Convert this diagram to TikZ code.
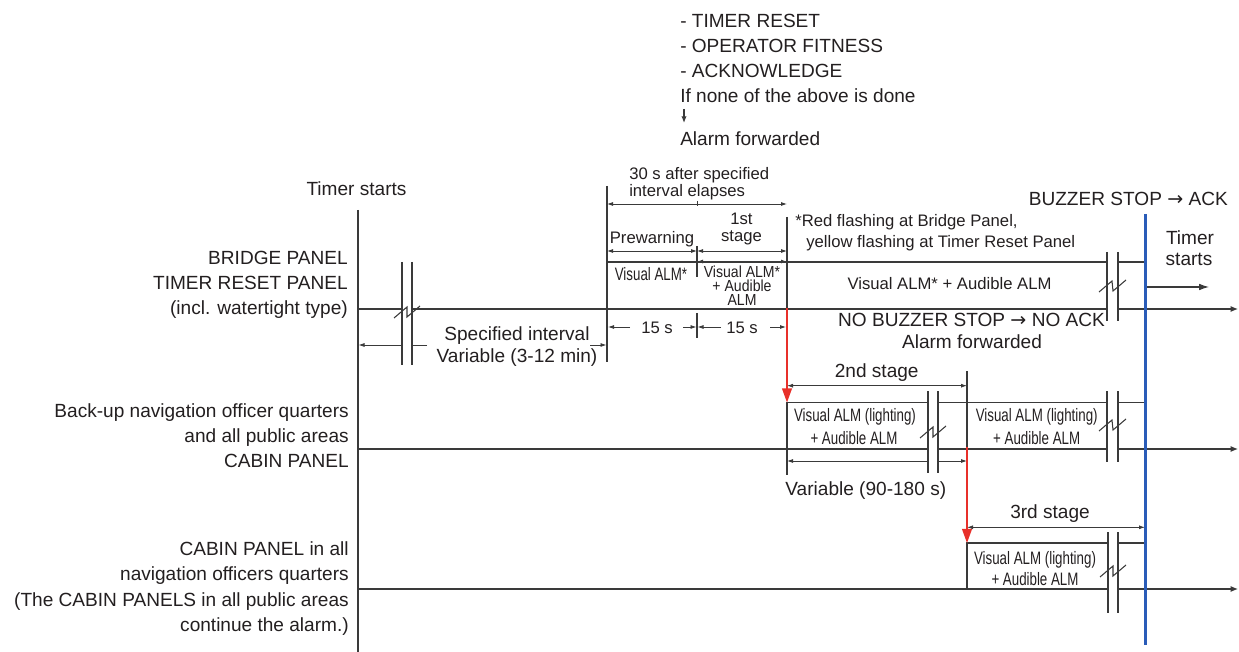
\documentclass[tikz,border=0pt]{standalone}
\usepackage{fontspec}
\setmainfont{Liberation Sans}
\newfontfamily\nfontA[FakeStretch=0.74]{Liberation Sans}
\newfontfamily\nfontB[FakeStretch=0.88]{Liberation Sans}
\newfontfamily\arfont{DejaVu Sans}
\usetikzlibrary{arrows.meta}
\definecolor{txt}{HTML}{231F20}
\definecolor{lc}{HTML}{3A3A3A}
\definecolor{redA}{HTML}{E8302A}
\definecolor{blueA}{HTML}{2A5CB8}
\newcommand\rarr{{\arfont\fontsize{14.3}{14}\selectfont →}}
\newcommand\brkmark[5]{%
  \fill[white] (#1,#3) rectangle (#2,#4);
  \draw[ln] (#1,#3) -- (#1,#4) (#2,#3) -- (#2,#4);
  \draw[ln] ({#1-8},{#5+6}) -- ({#1+5},{#5-5}) -- ({#2-5},{#5+5}) -- ({#2+8},{#5-6});
}
\begin{document}
\begin{tikzpicture}[x=0.75pt,y=-0.75pt,
  ln/.style={draw=lc,line width=0.8pt},
  big/.style={font=\fontsize{14.3}{18}\selectfont,text=txt,inner sep=0pt},
  mid/.style={font=\fontsize{12.5}{15}\selectfont,text=txt,inner sep=0pt},
  boxA/.style={font=\nfontA\fontsize{13.5}{16}\selectfont,text=txt,inner sep=0pt},
  boxB/.style={font=\nfontB\fontsize{12}{11}\selectfont,text=txt,inner sep=0pt},
  dimarr/.style={ln,line width=0.6pt,{Latex[length=4.5pt,width=3pt]}-{Latex[length=4.5pt,width=3pt]}},
  onearr/.style={ln,line width=0.6pt,-{Latex[length=4.5pt,width=3pt]}},
  tl/.style={ln,-{Latex[length=5.5pt,width=4.5pt]}},
  redarr/.style={draw=redA,line width=2.2pt,-{Triangle[length=11pt,width=7pt]}},
]
\useasboundingbox (0,0) rectangle (1239,652);

% ---- named coordinates
\coordinate (axT) at (358,210);  \coordinate (axB) at (358,652);
\coordinate (r1s) at (358,309);  \coordinate (r1e) at (1238,309);
\coordinate (r2s) at (358,449);  \coordinate (r2e) at (1238,449);
\coordinate (r3s) at (358,589);  \coordinate (r3e) at (1238,589);

% ---- axis and timelines
\draw[ln,line width=1.1pt] (axT) -- (axB);
\draw[tl] (r1s) -- (r1e);
\draw[tl] (r2s) -- (r2e);
\draw[tl] (r3s) -- (r3e);

% ---- row 1 boxes
\draw[ln] (607,309) -- (607,262) -- (1145,262);
\draw[ln] (787,262) -- (787,309);
\draw[ln,line width=1.2pt] (607,186) -- (607,262);
\draw[ln] (787,217) -- (787,262);
\draw[ln] (697,246) -- (697,277);
\draw[ln] (697,313) -- (697,338);
\draw[ln] (607,309) -- (607,362);

% dimension arrows row 1
\coordinate (d30a) at (607,204); \coordinate (d30b) at (787,204);
\draw[dimarr] (d30a) -- (d30b);
\draw[ln,line width=0.5pt] (697,201) -- (697,206);
\coordinate (dpa) at (607,251); \coordinate (dpb) at (697,251); \coordinate (dpc) at (787,251);
\draw[dimarr] (dpa) -- (dpb);
\draw[dimarr] (dpb) -- (dpc);
\coordinate (dta) at (697,261.5); \coordinate (dtb) at (787,261.5);
\draw[dimarr,line width=1.1pt] (dta) -- (dtb);

\draw[onearr] (630,327) -- (608,327);
\draw[onearr] (683,327) -- (696.5,327);
\draw[onearr] (721,327) -- (697.5,327);
\draw[onearr] (770,327) -- (786,327);
\draw[onearr] (427,345) -- (358.5,345);
\draw[onearr] (590,345) -- (606.5,345);

% ---- row 2
\draw[ln] (787,449) -- (787,402.7) -- (1145,402.7);
\draw[ln] (787,449) -- (787,475);
\draw[ln] (967,371) -- (967,449);
\coordinate (d2a) at (787,385.7); \coordinate (d2b) at (967,385.7);
\draw[dimarr] (d2a) -- (d2b);
\coordinate (d2c) at (787,461); \coordinate (d2d) at (967,461);
\draw[dimarr] (d2c) -- (d2d);

% ---- row 3
\draw[ln] (967,589) -- (967,543) -- (1145,543);
\coordinate (d3a) at (967,527.3); \coordinate (d3b) at (1145,527.3);
\draw[dimarr] (d3a) -- (d3b);

% ---- breaks
\brkmark{402}{412}{262}{365}{312}
\brkmark{1107}{1118}{252}{321}{286}
\brkmark{928}{938}{391}{473}{432}
\brkmark{1107}{1118}{391}{462}{425}
\brkmark{1108}{1118}{532}{613}{571}

% ---- red and blue
\coordinate (ra1) at (787,308); \coordinate (ra2) at (787,403);
\draw[redarr] (ra1) -- (ra2);
\coordinate (rb1) at (967,447); \coordinate (rb2) at (967,543.5);
\draw[redarr] (rb1) -- (rb2);
\coordinate (bl1) at (1145.5,214); \coordinate (bl2) at (1145.5,645);
\draw[draw=blueA,line width=2.2pt] (bl1) -- (bl2);

% timer starts arrow (right)
\coordinate (ts1) at (1147,287); \coordinate (ts2) at (1209,287);
\draw[ln,-{Latex[length=7.5pt,width=5pt]}] (ts1) -- (ts2);

% top down arrow
\coordinate (da1) at (684,109); \coordinate (da2) at (684,123);
\draw[ln,line width=0.9pt,-{Latex[length=5pt,width=4pt]}] (da1) -- (da2);

% ---- texts: top block
\node[big,anchor=base west] (tb1) at (680,27.3) {- TIMER RESET};
\node[big,anchor=base west] (tb2) at (680,52.7) {- OPERATOR FITNESS};
\node[big,anchor=base west] (tb3) at (680,77.7) {- ACKNOWLEDGE};
\node[big,anchor=base west] (tb4) at (680,102.7) {If none of the above is done};
\node[big,anchor=base west] (tb5) at (680,146) {Alarm forwarded};

% left labels
\node[big,anchor=base] (tsl) at (356.5,196) {Timer starts};
\node[big,anchor=base east] (l11) at (348,265) {BRIDGE PANEL};
\node[big,anchor=base east] (l12) at (348,290) {TIMER RESET PANEL};
\node[big,anchor=base east] (l13) at (348,315) {(incl. watertight type)};
\node[big,anchor=base east] (l21) at (349,417) {Back-up navigation officer quarters};
\node[big,anchor=base east] (l22) at (349,442) {and all public areas};
\node[big,anchor=base east] (l23) at (349,467) {CABIN PANEL};
\node[big,anchor=base east] (l31) at (349,555.5) {CABIN PANEL in all};
\node[big,anchor=base east] (l32) at (349,580.7) {navigation officers quarters};
\node[big,anchor=base east] (l33) at (349,606) {(The CABIN PANELS in all public areas};
\node[big,anchor=base east] (l34) at (349,631) {continue the alarm.)};

% row 1 texts
\node[mid,anchor=base west] (t30a) at (629,179.3) {30 s after specified};
\node[mid,anchor=base west] (t30b) at (629,196.7) {interval elapses};
\node[mid,anchor=base] (tpw) at (652,243.3) {Prewarning};
\node[mid,anchor=base] (t1st) at (741.5,225) {1st};
\node[mid,anchor=base] (tstg) at (741.5,241.7) {stage};
\node[boxA,anchor=base] (bv1) at (651,280.7) {Visual ALM*};
\node[boxB,anchor=base] (bv2a) at (742,277.3) {Visual ALM*};
\node[boxB,anchor=base] (bv2b) at (742,291.7) {+ Audible};
\node[boxB,anchor=base] (bv2c) at (742,306) {ALM};
\node[mid,anchor=base west] (red1) at (795,226.7) {*Red flashing at Bridge Panel,};
\node[mid,anchor=base west] (red2) at (806,247.3) {yellow flashing at Timer Reset Panel};
\node[mid,anchor=base] (bvbig) at (949.5,290) {Visual ALM* + Audible ALM};
\node[big,anchor=base east] (bst) at (1228,206) {BUZZER STOP \rarr{} ACK};
\node[big,anchor=base] (tsr1) at (1190,245) {Timer};
\node[big,anchor=base] (tsr2) at (1189,266) {starts};
\node[mid,anchor=base] (f1) at (657,333.3) {15 s};
\node[mid,anchor=base] (f2) at (742,333.3) {15 s};
\node[big,anchor=base] (sp1) at (517,340) {Specified interval};
\node[big,anchor=base] (sp2) at (517,363) {Variable (3-12 min)};
\node[big,anchor=base] (nb1) at (971.5,326) {NO BUZZER STOP \rarr{} NO ACK};
\node[big,anchor=base] (nb2) at (972,348.3) {Alarm forwarded};

% row 2 texts
\node[big,anchor=base] (s2) at (876.7,377.3) {2nd stage};
\node[boxA,anchor=base] (v21) at (855,421.7) {Visual ALM (lighting)};
\node[boxA,anchor=base] (v22) at (854,444) {+ Audible ALM};
\node[boxA,anchor=base] (v23) at (1036.7,421.7) {Visual ALM (lighting)};
\node[boxA,anchor=base] (v24) at (1036.7,444) {+ Audible ALM};
\node[big,anchor=base] (var2) at (865.8,495.7) {Variable (90-180 s)};

% row 3 texts
\node[big,anchor=base] (s3) at (1050,518.3) {3rd stage};
\node[boxA,anchor=base] (v31) at (1035,564) {Visual ALM (lighting)};
\node[boxA,anchor=base] (v32) at (1035,585) {+ Audible ALM};
\end{tikzpicture}
\end{document}
